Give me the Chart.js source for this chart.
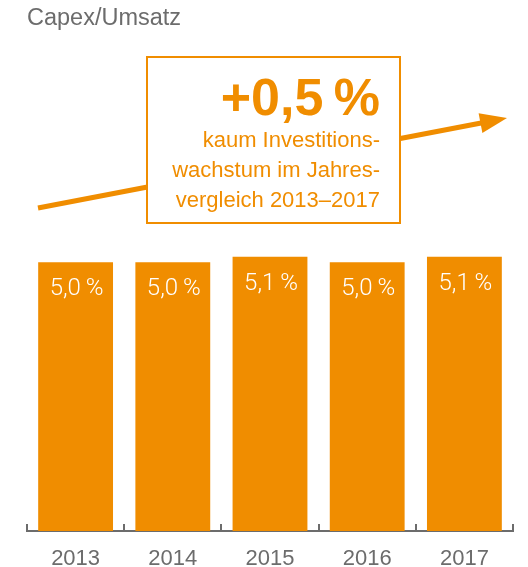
<!DOCTYPE html>
<html lang="de">
<head>
<meta charset="utf-8">
<title>Capex/Umsatz</title>
<script src="https://cdn.jsdelivr.net/npm/chart.js@4.4.1/dist/chart.umd.min.js"></script>
<style>
  html, body { margin: 0; padding: 0; background: #fff; }
  #wrap { width: 528px; height: 567px; }
</style>
</head>
<body>
<div id="wrap"><canvas id="capex" width="528" height="567"></canvas></div>
<script>
// Capex im Verhältnis zum Umsatz, in Prozent
const years = ['2013', '2014', '2015', '2016', '2017'];
const capexRatio = [5.0, 5.0, 5.1, 5.0, 5.1];
const growthValue = '+0,5\u2009%';
const growthText = ['kaum Investitions-', 'wachstum im Jahres-', 'vergleich 2013\u20132017'];

const ORANGE = '#F08D00';
const GREY = '#6c6c6c';
const FONT = '"Liberation Sans", Arial, sans-serif';

const fmt = v => v.toFixed(1).replace('.', ',') + '\u2009%';

// value labels inside the bars, inner tick marks on the x axis,
// the trend arrow and the callout box
const overlay = {
  id: 'overlay',
  afterDatasetsDraw(chart) {
    const { ctx, chartArea } = chart;
    const x = chart.scales.x;
    const meta = chart.getDatasetMeta(0);

    ctx.save();
    ctx.fillStyle = '#fff';
    ctx.font = '300 24px Roboto, "Liberation Sans", sans-serif';
    ctx.textAlign = 'center';
    ctx.textBaseline = 'middle';
    meta.data.forEach((bar, i) => {
      ctx.fillText(fmt(capexRatio[i]), bar.x + 1, bar.y + 27);
    });

    // tick marks at category boundaries, pointing up
    const step = x.width / years.length;
    ctx.strokeStyle = GREY;
    ctx.lineWidth = 2;
    for (let i = 0; i <= years.length; i++) {
      const px = Math.round(x.left + i * step);
      ctx.beginPath();
      ctx.moveTo(px, chartArea.bottom + 1);
      ctx.lineTo(px, chartArea.bottom - 7);
      ctx.stroke();
    }

    // trend arrow
    const x0 = 38, y0 = 208, x1 = 507, y1 = 118;
    const ang = Math.atan2(y1 - y0, x1 - x0);
    const headLen = 27, headW = 10;
    const bx = x1 - headLen * Math.cos(ang), by = y1 - headLen * Math.sin(ang);
    ctx.strokeStyle = ORANGE;
    ctx.fillStyle = ORANGE;
    ctx.lineWidth = 5;
    ctx.beginPath();
    ctx.moveTo(x0, y0);
    ctx.lineTo(bx + 2 * Math.cos(ang), by + 2 * Math.sin(ang));
    ctx.stroke();
    ctx.beginPath();
    ctx.moveTo(x1, y1);
    ctx.lineTo(bx + headW * Math.sin(ang), by - headW * Math.cos(ang));
    ctx.lineTo(bx - headW * Math.sin(ang), by + headW * Math.cos(ang));
    ctx.closePath();
    ctx.fill();

    // callout box
    const L = 147, T = 57, R = 400, B = 223;
    ctx.fillStyle = '#fff';
    ctx.fillRect(L, T, R - L, B - T);
    ctx.strokeStyle = ORANGE;
    ctx.lineWidth = 2;
    ctx.strokeRect(L, T, R - L, B - T);

    ctx.fillStyle = ORANGE;
    ctx.textAlign = 'right';
    ctx.textBaseline = 'alphabetic';
    ctx.font = 'bold 52px ' + FONT;
    ctx.fillText(growthValue, 380, 115);
    ctx.font = '22px ' + FONT;
    growthText.forEach((line, i) => ctx.fillText(line, 380, 147 + i * 30));
    ctx.restore();
  }
};

new Chart(document.getElementById('capex'), {
  type: 'bar',
  data: {
    labels: years,
    datasets: [{
      data: capexRatio,
      backgroundColor: ORANGE,
      borderWidth: 0,
      barPercentage: 0.77,
      categoryPercentage: 1
    }]
  },
  options: {
    responsive: false,
    animation: false,
    events: [],
    layout: { padding: { left: 27, right: 15, top: 0, bottom: 0 } },
    plugins: {
      legend: { display: false },
      tooltip: { enabled: false },
      title: {
        display: true,
        text: 'Capex/Umsatz',
        align: 'start',
        color: GREY,
        font: { family: FONT, size: 23.5, weight: 'normal', lineHeight: 1.2 },
        padding: { top: 4, bottom: 15 }
      }
    },
    scales: {
      x: {
        grid: { display: false, drawTicks: false },
        border: { display: true, color: GREY, width: 2 },
        ticks: {
          color: GREY,
          padding: 17,
          font: { family: FONT, size: 22, lineHeight: 1 }
        },
        afterFit(scale) { scale.height = 36; }
      },
      y: {
        display: false,
        min: 0,
        max: 9
      }
    }
  },
  plugins: [overlay]
});
</script>
</body>
</html>
